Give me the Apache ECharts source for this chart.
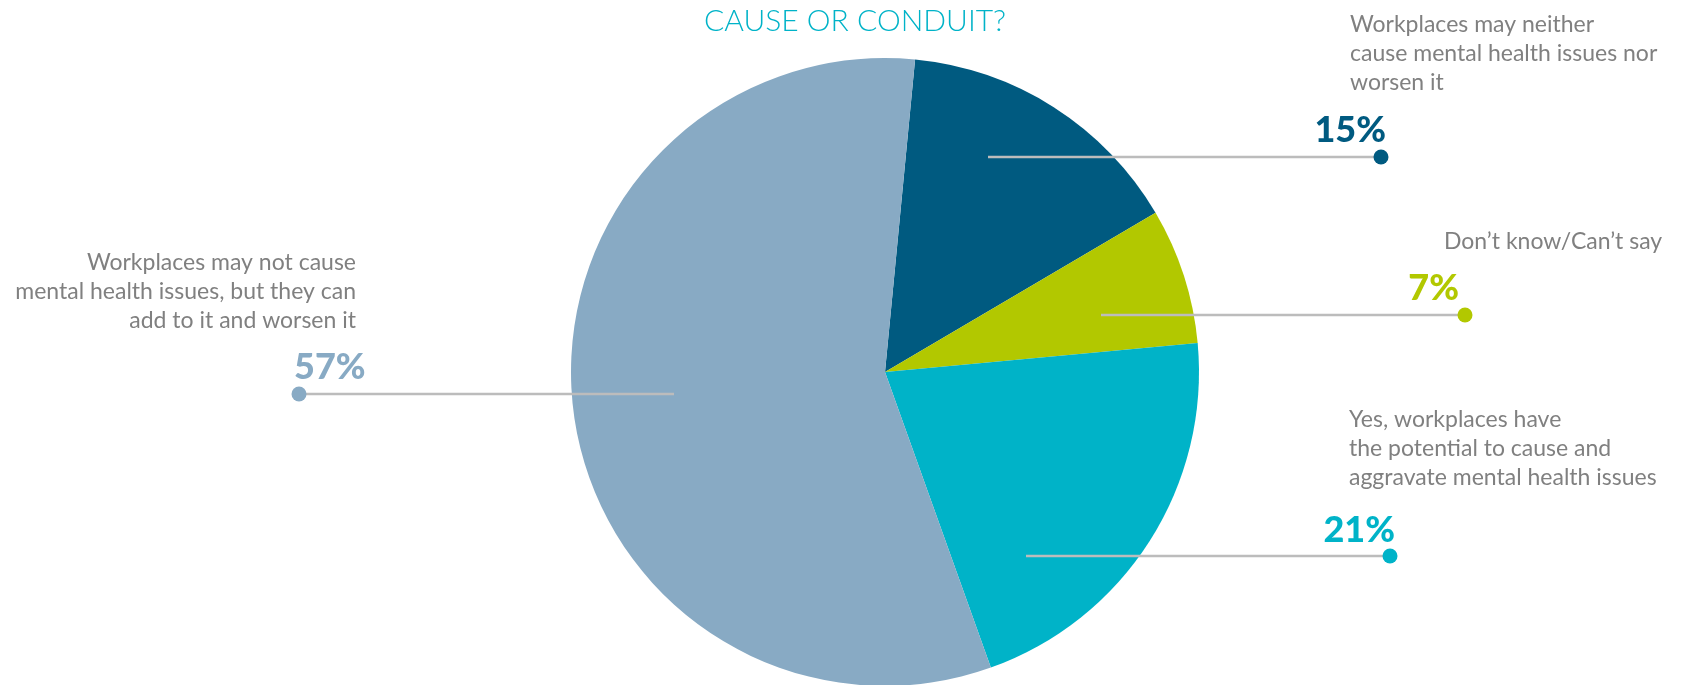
<!DOCTYPE html>
<html>
<head>
<meta charset="utf-8">
<title>Cause or conduit?</title>
<script src="https://cdn.jsdelivr.net/npm/echarts@6/dist/echarts.min.js"></script>
<style>
  html, body { margin: 0; padding: 0; background: #ffffff; }
  #chart { width: 1681px; height: 685px; }
</style>
</head>
<body>
<div id="chart"></div>
<script>
// Survey answers, clockwise from the top of the pie
const categories = [
  'Workplaces may neither\ncause mental health issues nor\nworsen it',
  'Don\u2019t know/Can\u2019t say',
  'Yes, workplaces have\nthe potential to cause and\naggravate mental health issues',
  'Workplaces may not cause\nmental health issues, but they can\nadd to it and worsen it'
];
const values = [15, 7, 21, 57];
const colors = ['#005a80', '#b2c800', '#00b3c8', '#88aac4'];
const titleText = 'CAUSE OR CONDUIT?';

// Callout geometry (leader line from inside the slice to a dot, with texts; y values are text tops)
const callouts = [
  { x1: 988,  x2: 1381, y: 157, pctX: 1386, pctY: 112, pctAlign: 'right', catX: 1350, catY: 10,  catAlign: 'left' },
  { x1: 1101, x2: 1465, y: 315, pctX: 1459, pctY: 270, pctAlign: 'right', catX: 1444, catY: 227, catAlign: 'left' },
  { x1: 1026, x2: 1390, y: 556, pctX: 1395, pctY: 512, pctAlign: 'right', catX: 1349, catY: 405, catAlign: 'left' },
  { x1: 674,  x2: 299,  y: 394, pctX: 294,  pctY: 349, pctAlign: 'left',  catX: 356,  catY: 248, catAlign: 'right' }
];

const TEXT_FONT = 'Lato, "Noto Sans", sans-serif';
const chart = echarts.init(document.getElementById('chart'), null, { renderer: 'canvas' });

const graphics = [];
// Title
graphics.push({
  type: 'text', z: 100,
  style: { text: titleText, x: 855, y: 6, align: 'center', verticalAlign: 'top',
           font: '300 30px ' + TEXT_FONT, fill: '#00b3c8' }
});
callouts.forEach(function (c, i) {
  graphics.push({
    type: 'line', z: 100,
    shape: { x1: c.x1, y1: c.y, x2: c.x2, y2: c.y },
    style: { stroke: '#bcbcbc', lineWidth: 2.5 }
  });
  graphics.push({
    type: 'circle', z: 101,
    shape: { cx: c.x2, cy: c.y, r: 7.5 },
    style: { fill: colors[i] }
  });
  graphics.push({
    type: 'text', z: 100,
    style: { text: values[i] + '%', x: c.pctX, y: c.pctY, align: c.pctAlign, verticalAlign: 'top',
             font: '900 36px ' + TEXT_FONT, fill: colors[i] }
  });
  graphics.push({
    type: 'text', z: 100,
    style: { text: categories[i], x: c.catX, y: c.catY, align: c.catAlign, verticalAlign: 'top',
             font: '400 23px ' + TEXT_FONT, lineHeight: 29, fill: '#808080' }
  });
});

chart.setOption({
  animation: false,
  backgroundColor: '#ffffff',
  series: [{
    type: 'pie',
    center: [885, 372],
    radius: 314,
    startAngle: 84.5,
    clockwise: true,
    silent: true,
    label: { show: false },
    labelLine: { show: false },
    itemStyle: { borderWidth: 0 },
    data: values.map(function (v, i) {
      return { name: categories[i], value: v, itemStyle: { color: colors[i] } };
    })
  }],
  graphic: graphics
});
</script>
</body>
</html>
